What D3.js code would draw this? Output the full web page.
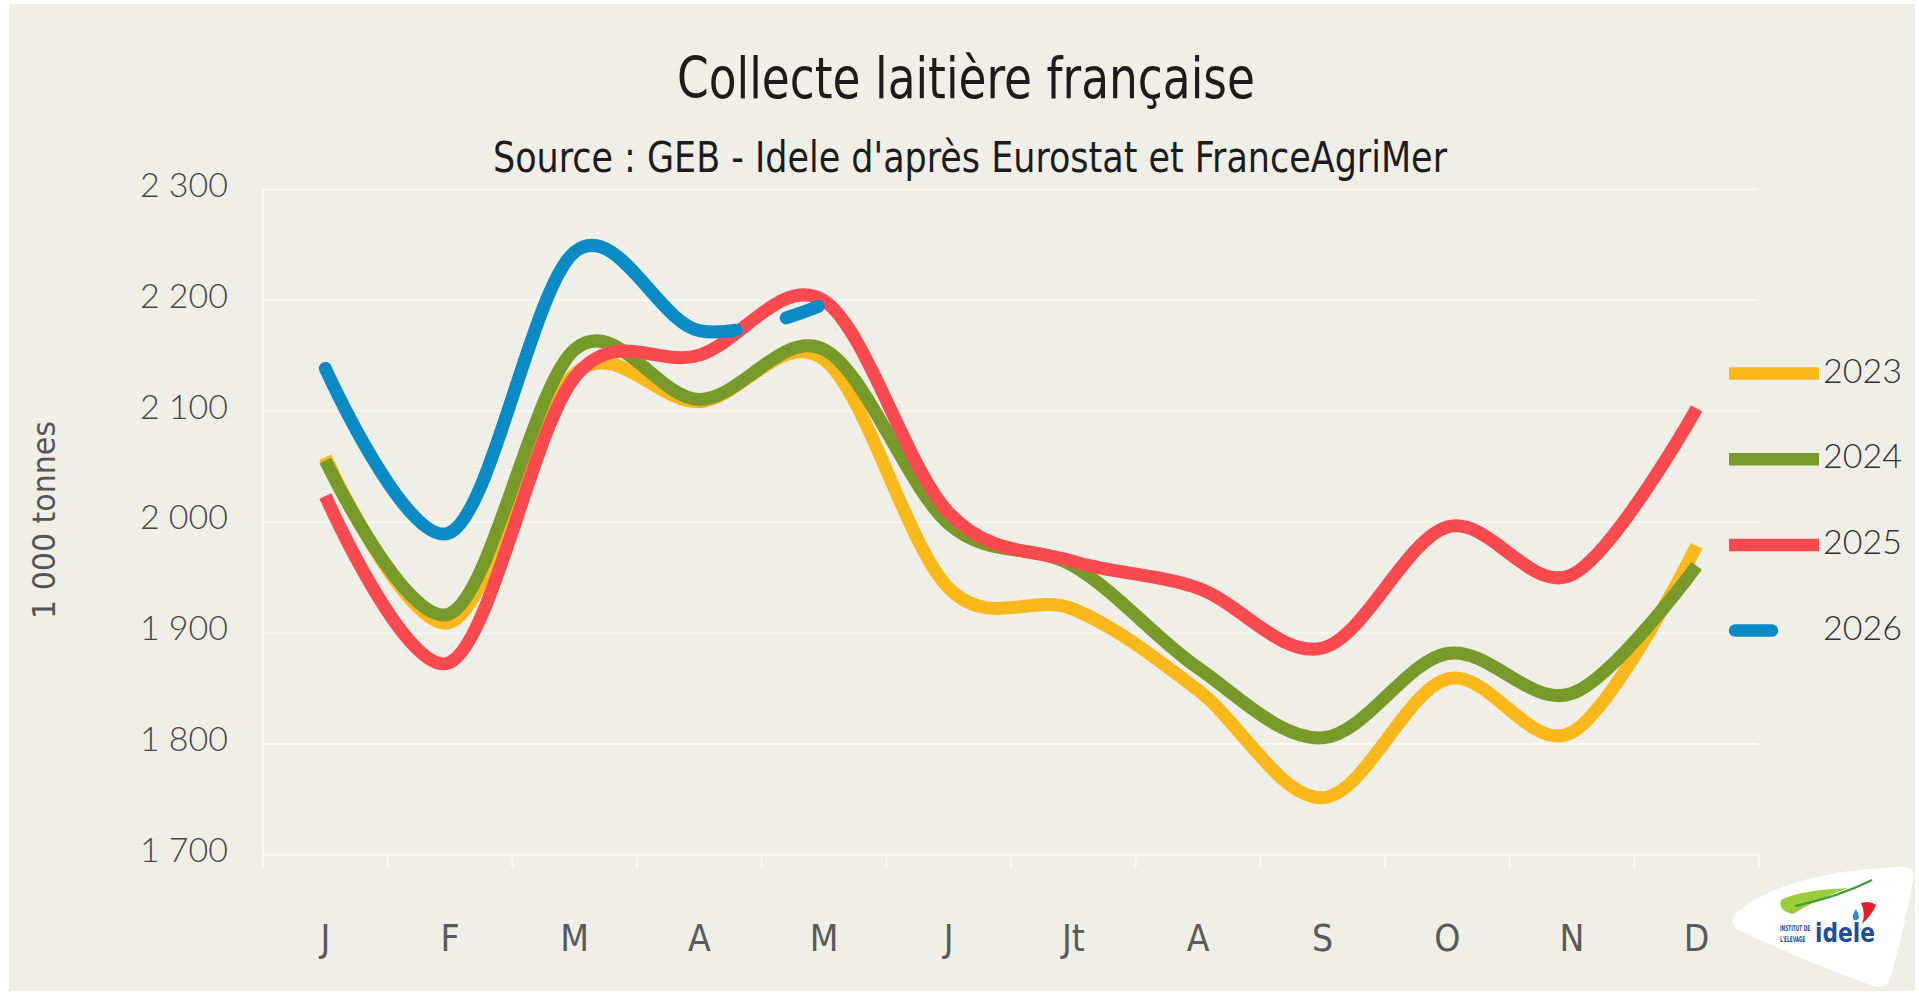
<!DOCTYPE html>
<html>
<head>
<meta charset="utf-8">
<script src="https://cdn.jsdelivr.net/npm/d3@7"></script>
<style>
  html, body { margin: 0; padding: 0; background: #ffffff; }
  svg { display: block; }
</style>
</head>
<body>
<svg id="chart" width="1919" height="995"></svg>
<script>
"use strict"

// data (1 000 tonnes)
var months = ["J", "F", "M", "A", "M", "J", "Jt", "A", "S", "O", "N", "D"];
var years = ["2023", "2024", "2025", "2026"];
var collecte2023 = [2058, 1909, 2133, 2108, 2146, 1940, 1921, 1848, 1751, 1858, 1810, 1978];
var collecte2024 = [2055, 1917, 2155, 2110, 2155, 1998, 1960, 1868, 1805, 1881, 1845, 1960];
var collecte2025 = [2023, 1873, 2130, 2150, 2199, 2008, 1964, 1940, 1886, 1995, 1952, 2102];
var collecte2026 = [2138, 1990, 2243, 2172, 2196];
var yTicks = [1700, 1800, 1900, 2000, 2100, 2200, 2300];

var colors = {
  "2023": "#fbb81a",
  "2024": "#789a2b",
  "2025": "#f94a50",
  "2026": "#0b8bc6"
};

var series = [
  {name: "2023", values: collecte2023},
  {name: "2024", values: collecte2024},
  {name: "2025", values: collecte2025},
  {name: "2026", values: collecte2026}
];

var narrow = "'Liberation Sans Narrow', 'DejaVu Sans Condensed', 'Open Sans', sans-serif";
var wide = "Lato, 'Open Sans', sans-serif";

var svg = d3.select("#chart");

// panel background
svg.append("rect")
  .attr("x", 9)
  .attr("y", 4)
  .attr("width", 1906)
  .attr("height", 987)
  .attr("fill", "#efefe7");

var plot = {left: 263, right: 1759, top: 188.7, bottom: 854.3};

var x = d3.scaleBand()
  .domain(d3.range(months.length))
  .range([plot.left, plot.right])
  .padding(0);

var y = d3.scaleLinear()
  .domain([1700, 2300])
  .range([plot.bottom, plot.top]);

var fr = d3.formatLocale({decimal: ",", thousands: "\u00a0", grouping: [3], currency: ["", " €"]});
var fmt = fr.format(",d");

// grid + y labels
var yAxis = svg.append("g")
  .attr("class", "y-axis")
  .attr("transform", "translate(" + plot.left + ",0)")
  .call(d3.axisLeft(y)
    .tickValues(yTicks)
    .tickSize(-(plot.right - plot.left))
    .tickPadding(35)
    .tickFormat(fmt));

yAxis.select(".domain").remove();

yAxis.selectAll(".tick line")
  .attr("stroke", "#fafaf6")
  .attr("stroke-width", 1.6);

yAxis.selectAll(".tick text")
  .attr("font-family", wide)
  .attr("font-weight", 300)
  .attr("font-size", 34)
  .attr("fill", "#474747")
  .attr("dy", "0.22em");

// vertical axis line
svg.append("line")
  .attr("x1", plot.left)
  .attr("x2", plot.left)
  .attr("y1", plot.top)
  .attr("y2", plot.bottom)
  .attr("stroke", "#fafaf6")
  .attr("stroke-width", 1.6);

// x axis: labels at band centers, ticks between bands
var xAxis = svg.append("g")
  .attr("class", "x-axis")
  .attr("transform", "translate(0," + plot.bottom + ")")
  .call(d3.axisBottom(x)
    .tickSize(0)
    .tickPadding(70)
    .tickFormat(function(i){ return months[i]; }));

xAxis.select(".domain")
  .attr("stroke", "#fafaf6")
  .attr("stroke-width", 2);

xAxis.selectAll(".tick text")
  .attr("font-family", narrow)
  .attr("font-size", 37)
  .attr("fill", "#5a5a5a");

xAxis.selectAll(".bound")
  .data(d3.range(months.length + 1))
  .enter()
  .append("line")
  .attr("class", "bound")
  .attr("x1", function(i){ return plot.left + i * x.step(); })
  .attr("x2", function(i){ return plot.left + i * x.step(); })
  .attr("y1", 0)
  .attr("y2", 14)
  .attr("stroke", "#fafaf6")
  .attr("stroke-width", 1.6);

// lines
var line = d3.line()
  .x(function(d, i){ return x(i) + x.bandwidth() / 2; })
  .y(function(d){ return y(d); })
  .curve(d3.curveCardinal.tension(0));

var lines_g = svg.append("g").attr("class", "lines");

lines_g.selectAll(".serie")
  .data(series)
  .enter()
  .append("path")
  .attr("class", "serie")
  .attr("d", function(s){ return line(s.values); })
  .attr("fill", "none")
  .attr("stroke", function(s){ return colors[s.name]; })
  .attr("stroke-width", 13)
  .attr("stroke-linecap", function(s){ return s.name === "2026" ? "round" : "butt"; })
  .attr("stroke-linejoin", "round")
  .each(function(s){
    if(s.name !== "2026") return;
    // last segment (A -> M) is dashed : find length at April
    var path = this;
    var total = path.getTotalLength();
    var target = x(3) + x.bandwidth() / 2;
    var lo = 0, hi = total;
    for(var k = 0; k < 40; k++){
      var mid = (lo + hi) / 2;
      if(path.getPointAtLength(mid).x < target) lo = mid; else hi = mid;
    }
    path.setAttribute("stroke-dasharray", (lo + 37) + " 51 34 200");
  });

// legend
var legend = svg.append("g")
  .attr("class", "legend")
  .attr("transform", "translate(1729,373.5)");

var legend_item = legend.selectAll(".item")
  .data(years)
  .enter()
  .append("g")
  .attr("class", "item")
  .attr("transform", function(d, i){ return "translate(0," + (i * 85.7) + ")"; });

legend_item.append("line")
  .attr("x1", function(d){ return d === "2026" ? 6 : 0; })
  .attr("x2", function(d){ return d === "2026" ? 43 : 90; })
  .attr("y1", 0)
  .attr("y2", 0)
  .attr("stroke", function(d){ return colors[d]; })
  .attr("stroke-width", 12.5)
  .attr("stroke-linecap", function(d){ return d === "2026" ? "round" : "butt"; });

legend_item.append("text")
  .attr("x", 94)
  .attr("y", 9)
  .attr("font-family", wide)
  .attr("font-weight", 300)
  .attr("font-size", 34)
  .attr("fill", "#333333")
  .text(function(d){ return d; });

// titles
svg.append("text")
  .attr("x", 966)
  .attr("y", 98)
  .attr("text-anchor", "middle")
  .attr("font-family", narrow)
  .attr("font-size", 57)
  .attr("fill", "#1c1c1c")
  .attr("textLength", 578)
  .attr("lengthAdjust", "spacingAndGlyphs")
  .text("Collecte laitière française");

svg.append("text")
  .attr("x", 970)
  .attr("y", 172)
  .attr("text-anchor", "middle")
  .attr("font-family", narrow)
  .attr("font-size", 42)
  .attr("fill", "#1c1c1c")
  .attr("textLength", 954)
  .attr("lengthAdjust", "spacingAndGlyphs")
  .text("Source : GEB - Idele d'après Eurostat et FranceAgriMer");

svg.append("text")
  .attr("transform", "translate(55,520) rotate(-90)")
  .attr("text-anchor", "middle")
  .attr("font-family", narrow)
  .attr("font-size", 32)
  .attr("fill", "#555555")
  .attr("textLength", 198)
  .attr("lengthAdjust", "spacingAndGlyphs")
  .text("1 000 tonnes");

// idele logo (rough)
var logo = svg.append("g").attr("class", "logo");

logo.append("path")
  .attr("d", "M1738,912 Q1785,872 1900,867 Q1916,866 1913,881 Q1903,935 1890,979 Q1885,992 1871,985 Q1790,955 1737,929 Q1727,921 1738,912 Z")
  .attr("fill", "#ffffff");

logo.append("path")
  .attr("d", "M1781,900 Q1800,890 1848,888 Q1815,900 1793,914 Q1778,911 1781,900 Z")
  .attr("fill", "#9ccb3b");

logo.append("path")
  .attr("d", "M1795,906 Q1838,897 1872,880")
  .attr("fill", "none")
  .attr("stroke", "#3f9b3a")
  .attr("stroke-width", 2.2);

logo.append("path")
  .attr("d", "M1861,903 Q1870,900 1876,905 Q1872,915 1862,924 Q1866,913 1861,903 Z")
  .attr("fill", "#e3202a");

logo.append("path")
  .attr("d", "M1856,909 Q1852,915 1853,919 Q1856,922 1859,918 Q1859,913 1856,909 Z")
  .attr("fill", "#2a8fd0");

// small words squeezed with a transform so their boxes stay narrow
logo.append("text")
  .attr("transform", "translate(1780,931) scale(0.6,1)")
  .attr("font-family", "'DejaVu Sans Condensed', 'Liberation Sans Narrow', sans-serif")
  .attr("font-weight", "bold")
  .attr("font-size", 8)
  .attr("fill", "#1d4f9c")
  .text("INSTITUT DE");

logo.append("text")
  .attr("transform", "translate(1780,942) scale(0.6,1)")
  .attr("font-family", "'DejaVu Sans Condensed', 'Liberation Sans Narrow', sans-serif")
  .attr("font-weight", "bold")
  .attr("font-size", 8)
  .attr("fill", "#1d4f9c")
  .text("L'ELEVAGE");

logo.append("text")
  .attr("x", 1815)
  .attr("y", 942)
  .attr("font-family", "'DejaVu Sans', sans-serif")
  .attr("font-weight", "bold")
  .attr("font-size", 26)
  .attr("fill", "#1d4f9c")
  .attr("textLength", 60)
  .attr("lengthAdjust", "spacingAndGlyphs")
  .text("idele");
</script>
</body>
</html>
